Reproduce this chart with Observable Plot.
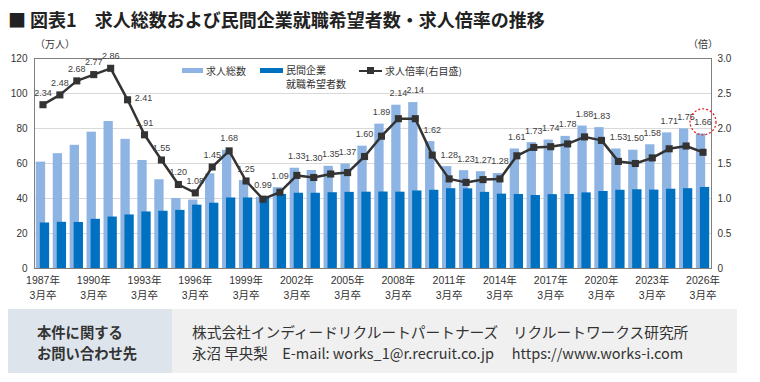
<!DOCTYPE html>
<html><head><meta charset="utf-8">
<script src="https://cdn.jsdelivr.net/npm/d3@7"></script>
<script src="https://cdn.jsdelivr.net/npm/@observablehq/plot@0.6"></script>
<style>
  body{margin:0;background:#fff;}
  #wrap{position:relative;width:760px;height:382px;overflow:hidden;font-family:"Liberation Sans","Noto Sans CJK JP",sans-serif;color:#333;}
  .abs{position:absolute;white-space:nowrap;}
  #title{left:8px;top:7px;font-size:18px;font-weight:bold;line-height:24px;color:#222;font-family:"Noto Sans CJK JP",sans-serif;}
  .unit{font-size:10px;line-height:12px;color:#333;font-family:"Noto Sans CJK JP",sans-serif;}
  .leg{font-size:10px;line-height:12px;color:#333;font-family:"Noto Sans CJK JP",sans-serif;}
  #footer{left:8px;top:309px;width:729px;height:64px;background:#f0f0f0;}
  #fleft{left:0;top:0;width:164px;height:64px;background:#dde4ec;}
  .ftxt{font-family:"Noto Sans CJK JP",sans-serif;font-size:14.3px;line-height:21px;color:#333;}
</style>
</head><body>
<div id="wrap">
  <div id="title" class="abs">■ 図表1　求人総数および民間企業就職希望者数・求人倍率の推移</div>
  <div class="abs unit" style="left:35px;top:38px;">（万人）</div>
  <div class="abs unit" style="left:688px;top:38px;">（倍）</div>
  <div id="chart" class="abs" style="left:0;top:36px;"></div>
  <div id="legend"></div>
  <div id="footer" class="abs">
    <div id="fleft" class="abs"></div>
    <div class="abs ftxt" style="left:29px;top:12px;font-weight:bold;">本件に関する<br>お問い合わせ先</div>
    <div class="abs ftxt" style="left:184px;top:12px;font-size:14.7px;">株式会社インディードリクルートパートナーズ　リクルートワークス研究所</div>
    <div class="abs ftxt" style="left:184px;top:33px;font-size:14.5px;">永沼 早央梨　E-mail: works_1@r.recruit.co.jp　 https://www.works-i.com</div>
  </div>
</div>
<script>
const years = [1987,1988,1989,1990,1991,1992,1993,1994,1995,1996,1997,1998,1999,2000,2001,2002,2003,2004,2005,2006,2007,2008,2009,2010,2011,2012,2013,2014,2015,2016,2017,2018,2019,2020,2021,2022,2023,2024,2025,2026];
const totalOffers = [60.8,65.6,70.4,77.9,84.0,73.8,61.7,50.7,40.0,39.1,54.1,67.5,50.2,40.7,46.2,57.3,56.0,58.4,59.7,69.9,82.5,93.3,94.8,72.5,58.2,55.9,55.3,54.3,68.3,71.9,73.4,75.5,81.4,80.5,68.3,67.6,70.7,77.5,79.8,76.9];
const jobSeekers = [26.0,26.4,26.3,28.1,29.4,30.6,32.3,32.7,33.2,36.2,37.3,40.3,40.3,41.2,42.3,43.0,43.0,43.3,43.5,43.6,43.7,43.6,44.3,44.7,45.6,45.5,43.5,42.5,42.3,41.7,42.2,42.3,43.2,44.0,44.7,45.0,44.8,45.3,45.6,46.3];
const ratio = [2.34,2.48,2.68,2.77,2.86,2.41,1.91,1.55,1.20,1.08,1.45,1.68,1.25,0.99,1.09,1.33,1.30,1.35,1.37,1.60,1.89,2.14,2.14,1.62,1.28,1.23,1.27,1.28,1.61,1.73,1.74,1.78,1.88,1.83,1.53,1.50,1.58,1.71,1.75,1.66];
const leftTicks = [0,20,40,60,80,100,120];
const rightTicks = [0,0.5,1.0,1.5,2.0,2.5,3.0];
const xTickYears = [1987,1990,1993,1996,1999,2002,2005,2008,2011,2014,2017,2020,2023,2026];
const highlightYear = 2026;

const LIGHT = "#8db4e2", DARK = "#0070c0", LINE = "#333333";
const K = 40; // 3.0 on right axis == 120 on left axis

const data = years.map((y,i) => ({
  year: y, total: totalOffers[i], seekers: jobSeekers[i], ratio: ratio[i],
  r: ratio[i]*K,
  lab: Math.max(ratio[i]*K, totalOffers[i]),
  side: i < ratio.length-1 && ratio[i]-ratio[i+1] >= 0.45 && ratio[i]*K > totalOffers[i]
}));

const font = "'Liberation Sans','Noto Sans CJK JP',sans-serif";
const chart = Plot.plot({
  width: 760, height: 272,
  marginLeft: 34, marginRight: 49, marginTop: 22, marginBottom: 40,
  style: {fontFamily: font, fontSize: "10px", color: "#333", background: "transparent"},
  x: {type: "band", domain: years, paddingInner: 0.45, paddingOuter: 0.225},
  y: {domain: [0, 120]},
  marks: [
    Plot.ruleY([20,40,60,80,100], {stroke: "#d9d9d9", strokeWidth: 1}),
    Plot.barY(data, {x: "year", y: "total", fill: LIGHT, dx: -2}),
    Plot.barY(data, {x: "year", y: "seekers", fill: DARK, dx: 2}),
    Plot.frame({stroke: "#808080", strokeWidth: 1}),
    Plot.axisY({anchor: "left", ticks: leftTicks, tickSize: 0, tickPadding: 7, fontSize: 10, fill: "#333"}),
    Plot.axisY({anchor: "right", ticks: rightTicks.map(t => t*K), tickFormat: v => v === 0 ? "0" : (v/K).toFixed(1), tickSize: 0, tickPadding: 6, fontSize: 10, fill: "#333", label: null}),
    Plot.axisX({ticks: xTickYears, tickFormat: y => `${y}年\n3月卒`, tickSize: 0, tickPadding: 5, fontSize: 10.5, lineHeight: 1.4, fill: "#333", label: null}),
    Plot.line(data, {x: "year", y: "r", stroke: LINE, strokeWidth: 2.5}),
    Plot.dot(data, {x: "year", y: "r", symbol: "square", r: 4, fill: LINE, stroke: null}),
    Plot.text(data.filter(d => !d.side), {x: "year", y: "lab", text: d => d.ratio.toFixed(2), dy: -12, fontSize: 9, fill: "#404040"}),
    Plot.text(data.filter(d => d.side), {x: "year", y: "r", text: d => d.ratio.toFixed(2), dx: 16, dy: -2, fontSize: 9, fill: "#404040"}),
    Plot.dot(data.filter(d => d.year === highlightYear), {x: "year", y: "lab", dy: -12, r: 13, fill: "none", stroke: "#e8202a", strokeWidth: 1.3, strokeDasharray: "2 2"})
  ]
});
document.getElementById("chart").appendChild(chart);

// legend
const legend = document.getElementById("legend");
legend.innerHTML = `
  <div class="abs" style="left:182px;top:68px;width:21px;height:5px;background:${LIGHT}"></div>
  <div class="abs leg" style="left:206px;top:64.5px;">求人総数</div>
  <div class="abs" style="left:260px;top:68px;width:23px;height:5px;background:${DARK}"></div>
  <div class="abs leg" style="left:286px;top:63.5px;">民間企業</div>
  <div class="abs leg" style="left:286px;top:78px;">就職希望者数</div>
  <div class="abs" style="left:359px;top:69.5px;width:23px;height:2.5px;background:${LINE}"></div>
  <div class="abs" style="left:367px;top:67px;width:7px;height:7px;background:${LINE}"></div>
  <div class="abs leg" style="left:385px;top:64.5px;">求人倍率(右目盛)</div>
`;
</script>
</body></html>
